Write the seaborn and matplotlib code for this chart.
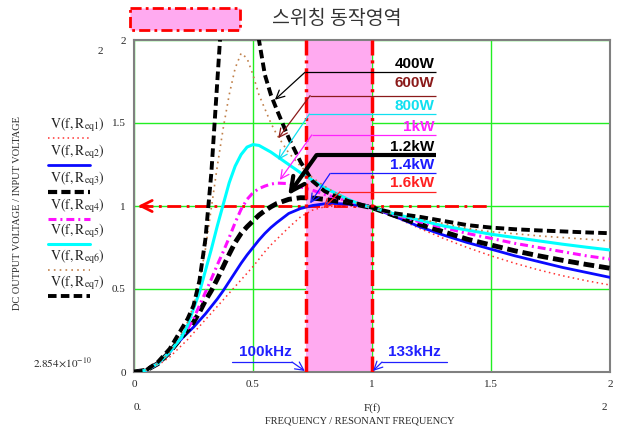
import matplotlib
matplotlib.use('Agg')

import pandas as pd
import matplotlib.pyplot as plt
from matplotlib.patches import Rectangle
from matplotlib.lines import Line2D
import seaborn as sns

sns.set_style('white')
plt.rcParams['font.family'] = ['Liberation Serif', 'DejaVu Serif']
plt.rcParams['mathtext.fontset'] = 'stix'

# ---------------- data ----------------
freq_ratio = [0, 0.05, 0.1, 0.15,
              0.2, 0.225, 0.25, 0.275, 0.3, 0.325, 0.35, 0.375, 0.4, 0.425, 0.45, 0.475, 0.5,
              0.525, 0.55, 0.575, 0.6,
              0.65, 0.7, 0.75, 0.8, 0.85, 0.9, 0.95, 1.0,
              1.1, 1.2, 1.3, 1.4, 1.5, 1.6, 1.7, 1.8, 1.9, 2.0]

gain_1600w = [0, 0.01, 0.04, 0.09,
              0.16, 0.195, 0.235, 0.275, 0.315, 0.355, 0.395, 0.435, 0.475, 0.515, 0.555, 0.595, 0.635,
              0.68, 0.725, 0.765, 0.80,
              0.87, 0.935, 0.975, 0.995, 1.0, 1.0, 0.997, 0.99,
              0.93, 0.865, 0.805, 0.75, 0.70, 0.655, 0.615, 0.58, 0.55, 0.524]
gain_1400w = [0, 0.01, 0.05, 0.12,
              0.20, 0.235, 0.27, 0.31, 0.35, 0.395, 0.44, 0.49, 0.545, 0.60, 0.655, 0.705, 0.75,
              0.795, 0.835, 0.87, 0.90,
              0.955, 0.985, 1.003, 1.013, 1.015, 1.011, 1.003, 0.99,
              0.935, 0.875, 0.825, 0.78, 0.74, 0.70, 0.665, 0.63, 0.60, 0.57]
gain_1200w = [0, 0.01, 0.05, 0.12,
              0.21, 0.25, 0.30, 0.36, 0.43, 0.49, 0.56, 0.635, 0.71, 0.78, 0.835, 0.875, 0.91,
              0.945, 0.972, 0.995, 1.015,
              1.04, 1.05, 1.048, 1.04, 1.03, 1.02, 1.005, 0.99,
              0.94, 0.89, 0.845, 0.80, 0.765, 0.73, 0.70, 0.673, 0.648, 0.625]
gain_1000w = [0, 0.01, 0.05, 0.12,
              0.21, 0.26, 0.32, 0.40, 0.48, 0.56, 0.645, 0.725, 0.81, 0.90, 0.98, 1.04, 1.08,
              1.105, 1.12, 1.132, 1.138,
              1.135, 1.115, 1.095, 1.07, 1.05, 1.03, 1.01, 0.99,
              0.945, 0.905, 0.87, 0.835, 0.805, 0.775, 0.75, 0.725, 0.70, 0.68]
gain_800w = [0, 0.01, 0.05, 0.12,
             0.21, 0.28, 0.38, 0.48, 0.61, 0.74, 0.88, 1.01, 1.14, 1.24, 1.31, 1.355, 1.37,
             1.365, 1.345, 1.325, 1.30,
             1.25, 1.20, 1.155, 1.11, 1.075, 1.04, 1.01, 0.99,
             0.95, 0.915, 0.88, 0.855, 0.83, 0.81, 0.79, 0.77, 0.752, 0.735]
gain_600w = [0, 0.01, 0.05, 0.12,
             0.24, 0.30, 0.40, 0.55, 0.74, 0.99, 1.24, 1.47, 1.67, 1.83, 1.92, 1.89, 1.79,
             1.67, 1.585, 1.50, 1.43,
             1.32, 1.24, 1.17, 1.12, 1.075, 1.04, 1.01, 0.99,
             0.95, 0.92, 0.895, 0.865, 0.845, 0.833, 0.82, 0.81, 0.80, 0.79]
gain_400w = [0, 0.01, 0.06, 0.14,
             0.26, 0.32, 0.40, 0.55, 0.80, 1.20, 1.75, 2.3, 2.7, 2.9, 2.9, 2.7, 2.3,
             2.0, 1.79, 1.67, 1.58,
             1.41, 1.265, 1.15, 1.09, 1.056, 1.03, 1.01, 0.99,
             0.955, 0.935, 0.91, 0.885, 0.87, 0.86, 0.853, 0.847, 0.841, 0.836]

loads = ['1.6kW', '1.4kW', '1.2kW', '1kW', '800W', '600W', '400W']
legend_labels = [r'$\mathrm{V}\left(\mathrm{f},\mathrm{R}_{\mathrm{eq%d}}\right)$' % i for i in range(1, 8)]

x_ticks = [0, 0.5, 1, 1.5, 2]
x_tick_labels = ['0', '0.5', '1', '1.5', '2']
y_ticks = [0, 0.5, 1, 1.5, 2]
y_tick_labels = ['0', '0.5', '1', '1.5', '2']

switching_band = (0.723, 1.0)

all_gains = gain_1600w + gain_1400w + gain_1200w + gain_1000w + gain_800w + gain_600w + gain_400w
df = pd.DataFrame({'f': freq_ratio * 7,
                   'gain': all_gains,
                   'load': [l for l in loads for _ in freq_ratio]})

# line styles per curve (Mathcad look)
styles = {
    '1.6kW': dict(color='#ff3030', lw=1.1, ls=(0, (1, 2.2))),
    '1.4kW': dict(color='#0a0aff', lw=2.0, ls='-'),
    '1.2kW': dict(color='black', lw=3.5, ls=(0, (2.2, 1))),
    '1kW':   dict(color='#ff10ff', lw=2.2, ls=(0, (2.6, 1.3, 0.65, 1.3))),
    '800W':  dict(color='#00ffff', lw=2.2, ls='-'),
    '600W':  dict(color='#c0804a', lw=1.2, ls=(0, (1, 2.5))),
    '400W':  dict(color='black', lw=2.8, ls=(0, (2.2, 1.1))),
}

fig = plt.figure(figsize=(6.21, 4.32), dpi=100)
ax = fig.add_axes([134 / 621, 60 / 432, 476 / 621, 332 / 432])

ax.axvspan(*switching_band, color='#ffaaf0', zorder=1, lw=0)

for load in loads:
    st = styles[load]
    sns.lineplot(data=df[df['load'] == load], x='f', y='gain', ax=ax, color=st['color'],
                 linewidth=st['lw'], linestyle=st['ls'], zorder=3, legend=False)

ax.set_xlim(0, 2)
ax.set_ylim(0, 2)
ax.set_xticks(x_ticks)
ax.set_xticklabels(x_tick_labels, fontsize=8)
ax.set_yticks(y_ticks)
ax.set_yticklabels(y_tick_labels, fontsize=8)
ax.tick_params(length=0, pad=6)
ax.set_xlabel('')
ax.set_ylabel('')
ax.grid(True, color='#22ee22', lw=1)
ax.set_axisbelow(True)
for sp in ax.spines.values():
    sp.set_color('#808080')
    sp.set_linewidth(1.5)

# switching band edges
for xv in switching_band:
    ax.axvline(xv, color='red', lw=2.5, ls=(0, (4.6, 1.4, 0.9, 1.4)), zorder=4)

# unity gain reference with arrow to the left
ax.plot([0.02, 1.49], [1, 1], color='red', lw=2, ls=(0, (5, 2, 1, 2)), zorder=2.5)
ax.annotate('', xy=(0.005, 1), xytext=(0.07, 1),
            arrowprops=dict(arrowstyle='->,head_length=0.8,head_width=0.4', color='red', lw=2), zorder=2.5)

# load annotations: text, text y, underline y, elbow x, arrow tip, colour, width
load_notes = [
    ('400W', 1.855, 1.805, 0.718, (0.592, 1.64), 'black', 0.9),
    ('600W', 1.74, 1.665, 0.740, (0.606, 1.408), '#8b1a1a', 0.9),
    ('800W', 1.60, 1.554, 0.737, (0.606, 1.277), '#10e0f0', 0.9),
    ('1kW', 1.474, 1.428, 0.747, (0.613, 1.157), '#ff20ff', 0.9),
    ('1.2kW', 1.357, 1.307, 0.767, (0.648, 1.066), 'black', 3.0),
    ('1.4kW', 1.247, 1.196, 0.824, (0.740, 1.016), '#1a1aff', 0.9),
    ('1.6kW', 1.14, 1.086, 0.866, (0.795, 0.986), '#ff2020', 0.9),
]
for txt, ty, ly, ex, tip, col, w in load_notes:
    ax.text(1.262, ty, txt, color=col, fontsize=11, fontweight='bold', ha='right', va='center',
            family='Liberation Sans', zorder=6)
    ax.plot([ex, 1.268], [ly, ly], color=col, lw=w, zorder=6, solid_capstyle='butt')
    hl = 1.0 if w > 2 else 0.6
    ax.annotate('', xy=tip, xytext=(ex, ly),
                arrowprops=dict(arrowstyle='->,head_length=%.1f,head_width=%.2f' % (hl, hl / 2),
                                color=col, lw=w, shrinkA=0, shrinkB=0), zorder=6)

# frequency marks
freq_notes = [('100kHz', 0.55, 0.412, 0.664, 0.664, (0.718, 0.006)),
              ('133kHz', 1.176, 1.042, 1.315, 1.042, (1.004, 0.006))]
for txt, tx, x0, x1, ax0, tip in freq_notes:
    ax.text(tx, 0.12, txt, color='#2020ff', fontsize=11, fontweight='bold', ha='center', va='center',
            family='Liberation Sans', zorder=6)
    ax.plot([x0, x1], [0.06, 0.06], color='#2020ff', lw=0.9, zorder=6)
    ax.annotate('', xy=tip, xytext=(ax0, 0.06),
                arrowprops=dict(arrowstyle='->,head_length=0.6,head_width=0.3', color='#2020ff',
                                lw=0.9, shrinkA=0, shrinkB=0), zorder=6)

# ---------------- overlay in pixel coordinates for Mathcad-style labels ----------------
ov = fig.add_axes([0, 0, 1, 1], zorder=-1)
ov.set_xlim(0, 621)
ov.set_ylim(432, 0)
ov.axis('off')

ov.add_patch(Rectangle((130, 8), 110, 22, facecolor='#ffaaf0', edgecolor='red', lw=2,
                       ls=(0, (4, 1.5, 1, 1.5))))
ov.text(337, 18, '스위칭 동작영역', fontsize=14, ha='center', va='center',
        family=['Noto Sans CJK KR', 'DejaVu Sans'], color='#333333')

label_y = [125, 152, 179, 206, 231, 257, 283]
for i, load in enumerate(loads):
    st = styles[load]
    ov.text(50, label_y[i], legend_labels[i], fontsize=10, ha='left', va='center')
    ov.add_line(Line2D([48, 90], [label_y[i] + 13, label_y[i] + 13], color=st['color'],
                       lw=min(st['lw'], 3), ls=st['ls']))

ov.text(100, 52, '2', fontsize=8, ha='center', va='center')
ov.text(62, 362, r'$2.854\!\times\!10^{-10}$', fontsize=8, ha='center', va='center')
ov.text(18, 213, 'DC OUTPUT VOLTAGE / INPUT VOLTAGE', fontsize=7.5, rotation=90,
        ha='center', va='center')
ov.text(138, 408, '0.', fontsize=8, ha='center', va='center')
ov.text(372, 408, 'F(f)', fontsize=8, ha='center', va='center')
ov.text(604, 408, '2', fontsize=8, ha='center', va='center')
ov.text(360, 421, 'FREQUENCY / RESONANT FREQUENCY', fontsize=7.5, ha='center', va='center')

fig.savefig('out.png', dpi=100)
